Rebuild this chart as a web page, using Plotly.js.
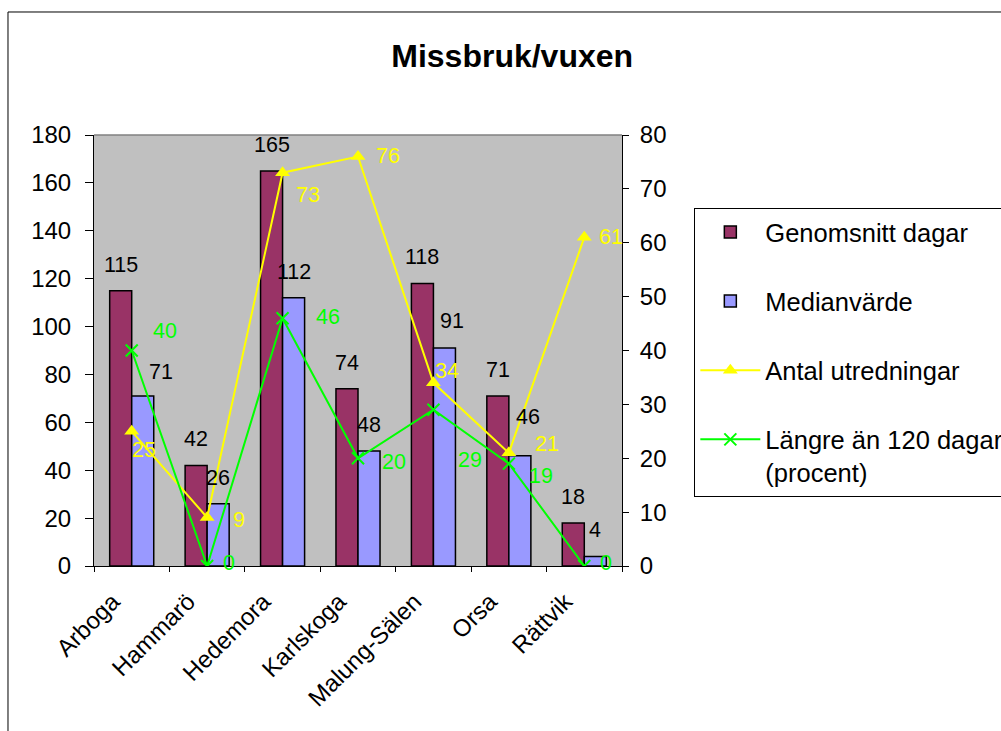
<!DOCTYPE html>
<html>
<head>
<meta charset="utf-8">
<script src="https://cdn.plot.ly/plotly-3.0.1.min.js"></script>
<style>html,body{margin:0;padding:0;background:#fff;}#chart{width:1001px;height:731px;}</style>
</head>
<body>
<div id="chart"></div>
<script>
// ---- data ----
const categories = ['Arboga', 'Hammarö', 'Hedemora', 'Karlskoga', 'Malung-Sälen', 'Orsa', 'Rättvik'];
const genomsnittDagar = [115, 42, 165, 74, 118, 71, 18];
const medianVarde = [71, 26, 112, 48, 91, 46, 4];
const antalUtredningar = [25, 9, 73, 76, 34, 21, 61];
const langreAn120 = [40, 0, 46, 20, 29, 19, 0];
const leftTicks = [0, 20, 40, 60, 80, 100, 120, 140, 160, 180];
const rightTicks = [0, 10, 20, 30, 40, 50, 60, 70, 80];
const seriesNames = ['Genomsnitt dagar', 'Medianvärde', 'Antal utredningar', 'Längre än 120 dagar<br>(procent)'];
const chartTitle = 'Missbruk/vuxen';

// ---- label placement (pixels: [xshift, yshift]) ----
const medianLabelShift = [[18, 24], [0, 26], [0, 26], [0, 26], [8, 27], [8, 39], [0, 26]];
const antalLabelShift = [[12, -19], [32, -2], [25, -22], [30, 1], [14, 12], [38, 9], [27, 0]];
const langreLabelShift = [[33, 20], [22, 3], [45, 1], [36, -4], [37, -50], [32, -12], [22, 3]];

const FONT = 'Liberation Sans, Arial, sans-serif';
const MAROON = '#993366', LAV = '#9999FF', YEL = '#FFFF00', GRN = '#00FF00';

const traces = [
  {type: 'bar', name: seriesNames[0], x: categories, y: genomsnittDagar, legendgroup: 'g1',
   marker: {color: MAROON, line: {color: '#000', width: 1.5}}, hoverinfo: 'skip'},
  {type: 'bar', name: seriesNames[1], x: categories, y: medianVarde, legendgroup: 'g2',
   marker: {color: LAV, line: {color: '#000', width: 1.5}}, hoverinfo: 'skip'},
  {type: 'scatter', mode: 'lines+markers', name: seriesNames[2], x: categories, y: antalUtredningar, yaxis: 'y2', legendgroup: 'g3',
   line: {color: YEL, width: 2}, marker: {symbol: 'triangle-up', size: 13, color: YEL}, hoverinfo: 'skip'},
  {type: 'scatter', mode: 'lines+markers', name: seriesNames[3], x: categories, y: langreAn120, yaxis: 'y2', legendgroup: 'g4',
   line: {color: GRN, width: 2}, marker: {symbol: 'x-thin-open', size: 12, color: GRN, line: {color: GRN, width: 2}}, hoverinfo: 'skip'}
];

const annotations = [];
categories.forEach((c, i) => {
  annotations.push({xref: 'x', yref: 'y', x: c, y: genomsnittDagar[i], text: String(genomsnittDagar[i]),
    showarrow: false, xanchor: 'center', yanchor: 'middle', xshift: -11, yshift: 26,
    font: {family: FONT, size: 21.5, color: '#000'}});
  annotations.push({xref: 'x', yref: 'y', x: c, y: medianVarde[i], text: String(medianVarde[i]),
    showarrow: false, xanchor: 'center', yanchor: 'middle', xshift: 11 + medianLabelShift[i][0], yshift: medianLabelShift[i][1],
    font: {family: FONT, size: 21.5, color: '#000'}});
  annotations.push({xref: 'x', yref: 'y2', x: c, y: antalUtredningar[i], text: String(antalUtredningar[i]),
    showarrow: false, xanchor: 'center', yanchor: 'middle', xshift: antalLabelShift[i][0], yshift: antalLabelShift[i][1],
    font: {family: FONT, size: 21.5, color: YEL}});
  annotations.push({xref: 'x', yref: 'y2', x: c, y: langreAn120[i], text: String(langreAn120[i]),
    showarrow: false, xanchor: 'center', yanchor: 'middle', xshift: langreLabelShift[i][0], yshift: langreLabelShift[i][1],
    font: {family: FONT, size: 21.5, color: GRN}});
});

const layout = {
  width: 1001, height: 731,
  margin: {l: 94, r: 379, t: 135, b: 165, pad: 0, autoexpand: false},
  paper_bgcolor: '#FFFFFF', plot_bgcolor: '#C0C0C0',
  font: {family: FONT, size: 24, color: '#000'},
  title: {text: chartTitle, xref: 'paper', x: 0.792, xanchor: 'center', yref: 'container', y: 0.923, yanchor: 'middle',
          font: {family: FONT, size: 32, weight: 'bold', color: '#000'}},
  barmode: 'group', bargap: 0.416, bargroupgap: 0,
  showlegend: true,
  legend: {x: 1.137, xanchor: 'left', y: 0.831, yanchor: 'top', bgcolor: '#FFFFFF', bordercolor: '#000', borderwidth: 1,
           font: {family: FONT, size: 25.5, color: '#000'}, tracegroupgap: 33, valign: 'top', itemwidth: 60, traceorder: 'grouped'},
  xaxis: {type: 'category', showgrid: false, zeroline: false, showline: true, linecolor: '#000', linewidth: 1,
          ticks: 'outside', ticklen: 5, tickcolor: '#000', tickson: 'boundaries', tickangle: -45,
          ticklabelshift: -19, ticklabelstandoff: 11,
          tickfont: {family: FONT, size: 24, color: '#000'}, range: [-0.5, 6.5], fixedrange: true},
  yaxis: {range: [0, 180], tickvals: leftTicks, ticktext: leftTicks.map(String), showgrid: false, zeroline: false,
          showline: true, linecolor: '#000', linewidth: 1, ticks: 'outside', ticklen: 8, tickcolor: '#000',
          ticklabelstandoff: 9, tickfont: {family: FONT, size: 24, color: '#000'}, fixedrange: true},
  yaxis2: {range: [0, 80], tickvals: rightTicks, ticktext: rightTicks.map(String), overlaying: 'y', side: 'right',
           showgrid: false, zeroline: false, showline: true, linecolor: '#000', linewidth: 1, ticks: 'outside',
           ticklen: 6, tickcolor: '#000', ticklabelstandoff: 6, tickfont: {family: FONT, size: 24, color: '#000'}, fixedrange: true},
  shapes: [
    {type: 'line', xref: 'paper', yref: 'paper', x0: 0, x1: 1, y0: 1, y1: 1, line: {color: '#808080', width: 1.5}},
    {type: 'rect', xref: 'paper', yref: 'paper', x0: -0.1629, x1: 1.73, y0: -0.42, y1: 1.2854, line: {color: '#000', width: 1}, layer: 'below'}
  ],
  annotations: annotations,
  hovermode: false
};

Plotly.newPlot('chart', traces, layout, {displayModeBar: false, staticPlot: true});
</script>
</body>
</html>
